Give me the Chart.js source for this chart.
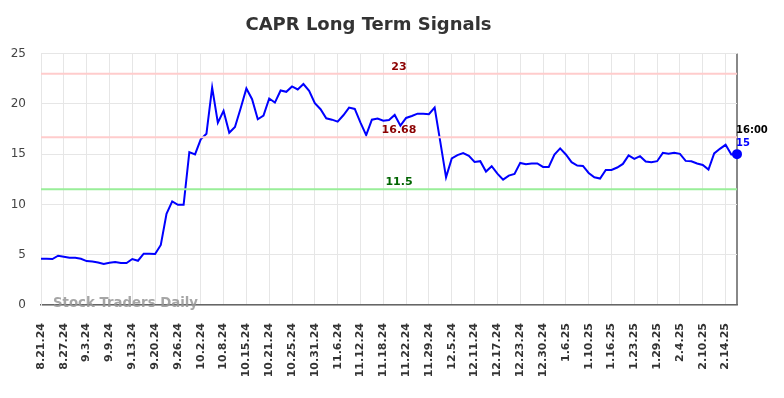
<!DOCTYPE html>
<html>
<head>
<meta charset="utf-8">
<script src="https://cdn.jsdelivr.net/npm/chart.js@4.4.1/dist/chart.umd.min.js"></script>
<style>
  html, body { margin: 0; padding: 0; background: #fff; }
  #wrap { width: 784px; height: 398px; }
</style>
</head>
<body>
<div id="wrap"><canvas id="signalChart"></canvas></div>
<script>
// DATA

// date labels, one every 4 trading days
const dateLabels = [
    "8.21.24", "8.27.24", "9.3.24", "9.9.24", "9.13.24", "9.20.24", "9.26.24", "10.2.24",
    "10.8.24", "10.15.24", "10.21.24", "10.25.24", "10.31.24", "11.6.24", "11.12.24", "11.18.24",
    "11.22.24", "11.29.24", "12.5.24", "12.11.24", "12.17.24", "12.23.24", "12.30.24", "1.6.25",
    "1.10.25", "1.16.25", "1.23.25", "1.29.25", "2.4.25", "2.10.25", "2.14.25"
];
const labelStep = 4;

// daily closing prices
const prices = [
    4.6, 4.6, 4.57, 4.9, 4.8, 4.7, 4.7, 4.6, 4.37, 4.33,
    4.23, 4.07, 4.2, 4.27, 4.17, 4.17, 4.57, 4.4, 5.1, 5.1,
    5.07, 5.97, 9.07, 10.3, 9.97, 9.97, 15.2, 14.97, 16.47, 17.03,
    21.63, 18.13, 19.3, 17.13, 17.7, 19.57, 21.53, 20.47, 18.47, 18.83,
    20.53, 20.13, 21.33, 21.2, 21.73, 21.43, 21.97, 21.3, 20.07, 19.47,
    18.57, 18.43, 18.23, 18.87, 19.63, 19.5, 18.13, 16.9, 18.43, 18.55,
    18.33, 18.4, 18.9, 17.83, 18.6, 18.8, 19.03, 19.03, 18.97, 19.63,
    16.2, 12.7, 14.57, 14.9, 15.1, 14.83, 14.23, 14.3, 13.27, 13.8,
    13.07, 12.47, 12.87, 13.03, 14.13, 14.0, 14.07, 14.07, 13.73, 13.73,
    14.97, 15.57, 14.97, 14.2, 13.87, 13.83, 13.13, 12.7, 12.57, 13.43,
    13.43, 13.67, 14.03, 14.87, 14.53, 14.8, 14.27, 14.2, 14.3, 15.13,
    15.03, 15.13, 15.03, 14.33, 14.3, 14.07, 13.93, 13.47, 15.07, 15.53,
    15.93, 14.97, 15.0
];

// signal levels
const resistanceLevels = [23, 16.68];
const supportLevels = [11.5];
const lastLabel = "16:00";
const lastValueText = "15";

const yTicks = [0, 5, 10, 15, 20, 25];

// BUILD DATASETS

const lastIndex = prices.length - 1;
const pricePoints = prices.map((v, i) => ({ x: i, y: v }));

function levelLine(value, color) {
    return {
        data: [{ x: 0, y: value }, { x: lastIndex, y: value }],
        borderColor: color,
        borderWidth: 2,
        pointRadius: 0,
        fill: false
    };
}

const datasets = [];
resistanceLevels.forEach(v => datasets.push(levelLine(v, "#ffcccc")));
supportLevels.forEach(v => datasets.push(levelLine(v, "#99ee99")));
datasets.push({
    data: pricePoints,
    borderColor: "#0000ff",
    backgroundColor: "#0000ff",
    borderWidth: 2,
    pointRadius: pricePoints.map((p, i) => i === lastIndex ? 4 : 0),
    pointHoverRadius: 0,
    tension: 0,
    fill: false,
    clip: false
});

// TEXT OVERLAYS (level labels, last value, watermark)

const overlayPlugin = {
    id: "overlay",
    afterDraw(chart) {
        const ctx = chart.ctx;
        const xs = chart.scales.x;
        const ys = chart.scales.y;
        const area = chart.chartArea;
        const midX = (area.left + area.right) / 2 + 10;

        ctx.save();
        ctx.font = "bold 11px 'DejaVu Sans'";
        ctx.textAlign = "center";
        ctx.textBaseline = "middle";
        resistanceLevels.forEach(v => {
            ctx.fillStyle = "#8b0000";
            ctx.fillText(String(v), midX, ys.getPixelForValue(v) - 7);
        });
        supportLevels.forEach(v => {
            ctx.fillStyle = "#006400";
            ctx.fillText(String(v), midX, ys.getPixelForValue(v) - 7);
        });

        // last value
        const px = xs.getPixelForValue(lastIndex);
        const py = ys.getPixelForValue(prices[lastIndex]);
        ctx.textAlign = "left";
        ctx.font = "bold 10px 'DejaVu Sans'";
        ctx.fillStyle = "#000";
        ctx.fillText(lastLabel, px - 1, py - 24);
        ctx.fillStyle = "#0000ff";
        ctx.fillText(lastValueText, px - 1, py - 11);

        // watermark
        ctx.font = "bold 13.3px 'DejaVu Sans'";
        ctx.fillStyle = "rgba(150,150,150,0.85)";
        ctx.fillText("Stock Traders Daily", area.left + 12, area.bottom - 1);
        ctx.restore();
    }
};

// CHART

const gridColor = "#e6e6e6";

new Chart(document.getElementById("signalChart"), {
    type: "line",
    data: { datasets: datasets },
    options: {
        responsive: true,
        maintainAspectRatio: false,
        animation: false,
        events: [],
        layout: { padding: { left: 0, right: 47, top: 0, bottom: 0 } },
        plugins: {
            legend: { display: false },
            tooltip: { enabled: false },
            title: {
                display: true,
                text: "CAPR Long Term Signals",
                color: "#333",
                font: { family: "'DejaVu Sans'", size: 18, weight: "bold" },
                padding: { top: 15, bottom: 17 }
            }
        },
        scales: {
            x: {
                type: "linear",
                min: 0,
                max: lastIndex,
                afterBuildTicks: axis => {
                    const t = dateLabels.map((d, i) => ({ value: i * labelStep }));
                    t.push({ value: lastIndex });
                    axis.ticks = t;
                },
                afterFit: axis => { axis.height = 93; },
                ticks: {
                    autoSkip: false,
                    minRotation: 90,
                    maxRotation: 90,
                    padding: 18,
                    color: "#333",
                    font: { family: "'DejaVu Sans'", size: 11, weight: "bold" },
                    callback: v => (v % labelStep === 0 ? dateLabels[v / labelStep] : "")
                },
                grid: {
                    drawTicks: false,
                    color: c => (c.tick && c.tick.value === lastIndex ? "#888" : gridColor),
                    lineWidth: c => (c.tick && c.tick.value === lastIndex ? 2 : 1)
                },
                border: { color: "#666", width: 1.5 }
            },
            y: {
                min: 0,
                max: 25,
                afterBuildTicks: axis => { axis.ticks = yTicks.map(v => ({ value: v })); },
                afterFit: axis => { axis.width = 41; },
                ticks: {
                    padding: 15,
                    color: "#444",
                    font: { family: "'DejaVu Sans'", size: 12 }
                },
                grid: { drawTicks: false, color: gridColor },
                border: { color: gridColor }
            }
        }
    },
    plugins: [overlayPlugin]
});
</script>
</body>
</html>
